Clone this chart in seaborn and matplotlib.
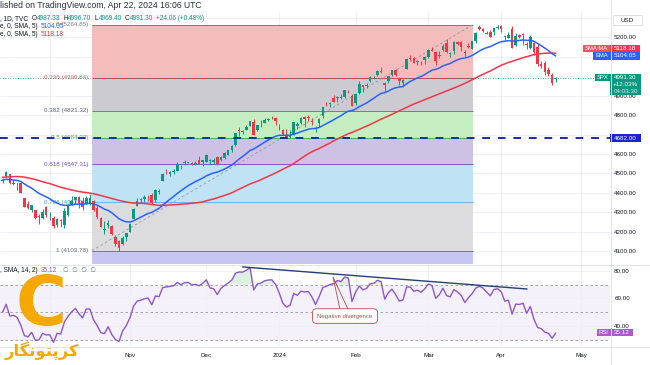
import numpy as np
import pandas as pd
import matplotlib
matplotlib.use("Agg")
import matplotlib.pyplot as plt
import seaborn as sns
from matplotlib.patches import Rectangle
from matplotlib.lines import Line2D

# ---------------- data (S&P 500 daily, 2023-09-13 .. 2024-04-22) ----------------
opens = [4462, 4487, 4497, 4445, 4446, 4453, 4375, 4342, 4311, 4312, 4282, 4269, 4328,
         4284, 4269, 4234, 4259, 4234, 4289, 4339, 4366, 4381, 4360, 4342, 4345, 4358, 4321, 4273, 4211, 4235, 4232, 4175, 4152, 4140, 4171,
         4201, 4268, 4335, 4365, 4367, 4384, 4391, 4364, 4407, 4459, 4505, 4497, 4510, 4511, 4538, 4553, 4556, 4555, 4546, 4571, 4559,
         4560, 4564, 4557, 4587, 4568, 4577, 4594, 4619, 4646, 4721, 4715, 4726, 4744, 4764, 4724, 4753, 4758, 4773, 4786, 4783,
         4745, 4726, 4698, 4690, 4703, 4742, 4760, 4792, 4791, 4772, 4739, 4760, 4796, 4853, 4856, 4888, 4886, 4888, 4892, 4926, 4900,
         4862, 4916, 4957, 4950, 4974, 4996, 5005, 5026, 4967, 4976, 5004, 5032, 4989, 4964, 5039, 5094, 5093, 5074, 5067, 5085,
         5098, 5131, 5123, 5109, 5133, 5173, 5112, 5131, 5174, 5176, 5123, 5154, 5140, 5182, 5254, 5242, 5220, 5228, 5226, 5248,
         5257, 5204, 5195, 5244, 5158, 5211, 5217, 5167, 5144, 5171, 5149, 5065, 5068, 5031, 5005, 4987.33]
highs = [4479, 4511, 4497, 4467, 4452, 4461, 4376, 4357, 4338, 4313, 4292, 4317, 4333,
         4300, 4281, 4269, 4268, 4324, 4341, 4385, 4378, 4385, 4377, 4383, 4393, 4365, 4339, 4276, 4255, 4259, 4233, 4184, 4157, 4178, 4195,
         4246, 4320, 4374, 4372, 4387, 4391, 4401, 4418, 4421, 4504, 4521, 4511, 4521, 4557, 4542, 4568, 4561, 4560, 4562, 4588, 4569,
         4599, 4575, 4579, 4590, 4590, 4610, 4623, 4644, 4709, 4739, 4725, 4749, 4769, 4779, 4749, 4773, 4785, 4785, 4794, 4789,
         4755, 4729, 4727, 4721, 4764, 4765, 4790, 4798, 4803, 4783, 4745, 4785, 4843, 4868, 4866, 4903, 4898, 4906, 4929, 4931, 4907,
         4906, 4975, 4957, 4964, 4999, 5000, 5030, 5048, 4971, 5003, 5032, 5039, 4993, 4984, 5094, 5111, 5097, 5082, 5077, 5104,
         5140, 5149, 5127, 5127, 5165, 5189, 5125, 5180, 5180, 5180, 5136, 5171, 5180, 5225, 5261, 5247, 5230, 5235, 5249, 5264.85,
         5264, 5208, 5229, 5256, 5222, 5219, 5224, 5178, 5211, 5175, 5168, 5079, 5077, 5046, 5019, 4996.70]
lows = [4453, 4478, 4447, 4443, 4416, 4401, 4329, 4316, 4302, 4265, 4238, 4265, 4274,
        4260, 4220, 4225, 4225, 4219, 4283, 4339, 4345, 4325, 4311, 4342, 4338, 4309, 4268, 4223, 4189, 4220, 4182, 4128, 4103.78, 4133, 4153,
        4197, 4268, 4335, 4348, 4355, 4360, 4344, 4353, 4394, 4459, 4496, 4487, 4499, 4511, 4525, 4546, 4554, 4546, 4541, 4547, 4537,
        4558, 4548, 4547, 4546, 4566, 4575, 4594, 4611, 4643, 4694, 4705, 4725, 4743, 4697, 4717, 4737, 4758, 4768, 4780, 4751,
        4723, 4700, 4687, 4682, 4700, 4731, 4756, 4740, 4769, 4748, 4715, 4740, 4785, 4845, 4844, 4865, 4869, 4881, 4887, 4916, 4845,
        4853, 4908, 4918, 4940, 4969, 4987, 5000, 5016, 4920, 4964, 5003, 4999, 4955, 4946, 5039, 5082, 5068, 5058, 5058, 5062,
        5094, 5127, 5056, 5092, 5131, 5117, 5100, 5114, 5160, 5131, 5104, 5147, 5138, 5171, 5240, 5229, 5215, 5203, 5214, 5245,
        5229, 5184, 5194, 5146, 5157, 5198, 5160, 5138, 5138, 5107, 5052, 5040, 5008, 5002, 4954, 4969.40]
closes = [4467.44, 4505.10, 4450.32, 4453.53, 4443.95, 4402.20, 4330.00, 4320.06, 4337.44, 4273.53, 4274.51, 4299.70, 4288.05,
          4288.39, 4229.45, 4263.75, 4258.19, 4308.50, 4335.66, 4358.24, 4376.95, 4349.61, 4327.78, 4373.63, 4373.20, 4314.60, 4278.00, 4224.16, 4217.04, 4247.68, 4186.77, 4137.23, 4117.37, 4166.82, 4193.80,
          4237.86, 4317.78, 4358.34, 4365.98, 4378.38, 4382.78, 4347.35, 4415.24, 4411.55, 4495.70, 4502.88, 4508.24, 4514.02, 4547.38, 4538.19, 4556.62, 4559.34, 4550.43, 4554.89, 4550.58, 4567.80,
          4594.63, 4569.78, 4567.18, 4549.34, 4585.59, 4604.37, 4622.44, 4643.70, 4707.09, 4719.55, 4719.19, 4740.56, 4768.37, 4698.35, 4746.75, 4754.63, 4774.75, 4781.58, 4783.35, 4769.83,
          4742.83, 4704.81, 4688.68, 4697.24, 4763.54, 4756.50, 4783.45, 4780.24, 4783.83, 4765.98, 4739.21, 4780.94, 4839.81, 4850.43, 4864.60, 4868.55, 4894.16, 4890.97, 4927.93, 4924.97, 4845.65,
          4906.19, 4958.61, 4942.81, 4954.23, 4995.06, 4997.91, 5026.61, 5021.84, 4953.17, 5000.62, 5029.73, 5005.57, 4975.51, 4981.80, 5087.03, 5088.80, 5069.53, 5078.18, 5069.76, 5096.27,
          5137.08, 5130.95, 5078.65, 5104.76, 5157.36, 5123.69, 5117.94, 5175.27, 5165.31, 5150.48, 5117.09, 5149.42, 5178.51, 5224.62, 5241.53, 5234.18, 5218.19, 5203.58, 5248.49, 5254.35,
          5243.77, 5205.81, 5211.49, 5147.21, 5204.34, 5202.39, 5209.91, 5160.64, 5199.06, 5123.41, 5061.82, 5051.41, 5022.21, 5011.12, 4967.23, 4991.30]
# closes before the visible window (2023-07-03 .. 2023-09-12), used to warm up the indicators
history_closes = [4455.59, 4446.82, 4411.59, 4398.95, 4409.53, 4439.26, 4472.16, 4510.04, 4505.42, 4522.79,
                  4554.98, 4565.72, 4534.87, 4536.34, 4554.64, 4567.46, 4566.75, 4537.41, 4582.23, 4588.96,
                  4576.73, 4513.39, 4501.89, 4478.03, 4518.44, 4499.38, 4467.71, 4468.83, 4464.05, 4489.72,
                  4437.86, 4404.33, 4370.36, 4369.71, 4399.77, 4387.55, 4436.01, 4376.31, 4405.71, 4433.31,
                  4497.63, 4514.87, 4507.66, 4515.77, 4496.83, 4465.48, 4451.14, 4457.49, 4487.46, 4461.90]

month_labels = ["Nov", "Dec", "2024", "Feb", "Mar", "Apr", "May"]
price_ticks = [4100, 4200, 4300, 4400, 4500, 4600, 4800, 4900, 5200]
rsi_ticks = [40, 60, 80]
fib_levels = [0, 0.236, 0.382, 0.5, 0.618, 0.786, 1]
fib_level_text = ["0", "0.236", "0.382", "0.5", "0.618", "0.786", "1"]
fib_low, fib_high = 4103.78, 5264.85
support_level = 4682.00
last_price = 4991.30
ohlc_text = ["4987.33", "4996.70", "4969.40", "4991.30"]
change_text = "+24.06 (+0.48%)"
ema_last, sma_last, rsi_last = 5104.05, 5118.18, 35.12

# ---------------- positions / styles ----------------
month_bar = [35, 56, 76, 97, 117, 137, 159]
grid_bar = [13] + month_bar
zone_x0, zone_x1 = 24.56, 129.2
div_x, div_y = [66.0, 144.1], [82.7, 66.8]

UP, DN = "#089981", "#f23645"
BLUE, RED, PURPLE = "#2962ff", "#f23645", "#8e57c7"
TXT = "#131722"

sns.set_theme(style="white")
plt.rcParams['font.family'] = ['Liberation Sans', 'DejaVu Sans']
plt.rcParams['axes.unicode_minus'] = False

W, H = 650, 365
fig = plt.figure(figsize=(W / 100, H / 100), dpi=100)
fig.patch.set_facecolor("white")


def fx(p):
    return p / W


def fy(p):
    return 1 - p / H


ax = fig.add_axes([0, fy(264), fx(610), (264 - 12) / H])
axr = fig.add_axes([0, fy(346), fx(610), (346 - 265) / H])

n = len(closes)
idx = np.arange(n)
o, h, l, c = map(np.asarray, (opens, highs, lows, closes))

# indicators
allc = pd.Series(history_closes + closes, dtype=float)
ema = allc.ewm(span=20, adjust=False).mean().to_numpy()[-n:]
sma = allc.rolling(50).mean().to_numpy()[-n:]
dlt = allc.diff().fillna(0)
ag = dlt.clip(lower=0).ewm(alpha=1 / 14, adjust=False).mean()
al = (-dlt).clip(lower=0).ewm(alpha=1 / 14, adjust=False).mean()
rsi = (100 - 100 / (1 + ag / al)).to_numpy()[-n:]

# ---------------- main panel ----------------
fib_prices = [fib_high - f * (fib_high - fib_low) for f in fib_levels]
zone_colors = ["#f4bcbd", "#cccbd1", "#c4eec1", "#cdc2e3", "#bfe2f4", "#dcdcde"]
level_colors = ["#787b86", "#f23645", "#787b86", "#4caf50", "#7e57c2", "#64b5f6", "#787b86"]
label_colors = ["#787b86", "#e06b6b", "#5d606b", "#4caf50", "#6a4fb0", "#3a9ad8", "#6b6e78"]
for i in range(6):
    ax.add_patch(Rectangle((zone_x0, fib_prices[i + 1]), zone_x1 - zone_x0,
                           fib_prices[i] - fib_prices[i + 1], fc=zone_colors[i], lw=0, zorder=1))
ext = fib_high - 1.618 * (fib_high - fib_low)
ax.add_patch(Rectangle((zone_x0, ext), zone_x1 - zone_x0, fib_low - ext, fc="#c7c6f2", lw=0, zorder=1))
for p, col, lab, lc in zip(fib_prices, level_colors, fib_level_text, label_colors):
    ax.hlines(p, zone_x0, zone_x1, colors=col, lw=0.7, zorder=2)
    ax.text(zone_x0 - 1.0, p, f"{lab} ({p:.2f})", ha="right", va="center", fontsize=4.5, color=lc, zorder=3)
ax.plot([zone_x0, zone_x1], [fib_low, fib_high], color="#9598a1", lw=0.6, ls=(0, (3, 3)), zorder=2)

ax.axhline(last_price, color=UP, lw=0.6, ls=(0, (1, 2)), zorder=3)

col = np.where(c >= o, UP, DN)
ax.vlines(idx, l, h, colors=col, lw=0.7, zorder=4)
ax.bar(idx, np.maximum(np.abs(c - o), 1.5), bottom=np.minimum(o, c), width=0.7,
       color=col, lw=0, zorder=5)

sns.lineplot(x=idx, y=sma, ax=ax, color=RED, lw=1.1, legend=False, zorder=6)
sns.lineplot(x=idx, y=ema, ax=ax, color=BLUE, lw=1.1, legend=False, zorder=6)

ax.axhline(support_level, color="#1b2aa8", lw=1.4, ls=(0, (4, 4)), zorder=7)

# ---------------- RSI panel ----------------
axr.axhspan(30, 70, color="#7e57c2", alpha=0.08, lw=0, zorder=0.5)
for v in (70, 50, 30):
    axr.axhline(v, color="#9598a1", lw=0.6, ls=(0, (3, 3)), zorder=1)
axr.fill_between(idx, rsi, 70, where=rsi > 70, interpolate=True, color="#4caf50", alpha=0.18, lw=0, zorder=1.5)
axr.fill_between(idx, rsi, 30, where=rsi < 30, interpolate=True, color="#f23645", alpha=0.15, lw=0, zorder=1.5)
sns.lineplot(x=idx, y=rsi, ax=axr, color=PURPLE, lw=1.0, legend=False, zorder=3)
axr.plot(div_x, div_y, color="#25406e", lw=1.0, zorder=4)
axr.plot([92.7, 90.8, 94.9], [52.3, 75.4, 52.3], color="#b5484a", lw=0.6, zorder=4)
axr.text(94.1, 47.3, "Negative divergence", ha="center", va="center", fontsize=4.3, color="#b5484a", zorder=5,
         bbox=dict(boxstyle="round,pad=0.8,rounding_size=0.6", fc="white", ec="#b5484a", lw=0.6))

# ---------------- axes cosmetics ----------------
for a in (ax, axr):
    a.set_xlim(-0.7, 166.9)
    a.set_facecolor("white")
    for s in a.spines.values():
        s.set_visible(False)
    a.set_axisbelow(True)
    a.set_xlabel("")
    a.set_ylabel("")
    a.yaxis.tick_right()
    a.set_xticks(grid_bar)
    a.grid(True, axis="x", color="#eef0f5", lw=0.7)
ax.set_ylim(4034.7, 5330)
axr.set_ylim(25.7, 84.1)
for v in range(4100, 5301, 100):
    ax.axhline(v, color="#eef0f5", lw=0.7, zorder=0)
ax.set_yticks(price_ticks)
ax.set_yticklabels([f"{v:.2f}" for v in price_ticks])
ax.tick_params(axis="y", length=0, pad=3, labelsize=4.5, labelcolor=TXT)
ax.tick_params(axis="x", length=0, labelbottom=False)
axr.set_yticks(rsi_ticks)
axr.set_yticklabels([f"{v:.2f}" for v in rsi_ticks])
axr.grid(True, axis="y", color="#eef0f5", lw=0.7)
axr.tick_params(axis="y", length=0, pad=3, labelsize=4.5, labelcolor=TXT)
axr.set_xticklabels([""] + month_labels)
axr.tick_params(axis="x", length=0, pad=5, labelsize=4.5, labelcolor=TXT)

# separators
for (x0, y0, x1, y1) in [(0, 264.5, 650, 264.5), (0, 346.5, 650, 346.5), (610.5, 0, 610.5, 365)]:
    fig.add_artist(Line2D([fx(x0), fx(x1)], [fy(y0), fy(y1)], color="#e0e3eb", lw=0.7))


def ypx(a, v):
    return H - a.transData.transform((0, v))[1]


def box(x0, y0, x1, y1, fc, ec="none", lw=0.0):
    fig.add_artist(Rectangle((fx(x0), fy(y1)), (x1 - x0) / W, (y1 - y0) / H,
                             transform=fig.transFigure, fc=fc, ec=ec, lw=lw))


def ftext(x, y, s, **kw):
    return fig.text(fx(x), fy(y), s, **kw)


# right-scale tags
box(613, 15, 642, 25, "white", ec="#d1d4dc", lw=0.5)
ftext(627.5, 20, "USD", ha="center", va="center", fontsize=4.5, color=TXT)

ye = ypx(ax, ema_last)
box(593, ye - 3.7, 610, ye + 3.7, BLUE)
ftext(601.5, ye, "EMA", ha="center", va="center", fontsize=4.2, color="white")
box(610, ye - 3.7, 640, ye + 3.7, BLUE)
ftext(625, ye, f"{ema_last:.2f}", ha="center", va="center", fontsize=4.5, color="white")
ys = ye - 7.4
box(583, ys - 3.7, 610, ys + 3.7, "#f0525f")
ftext(596.5, ys, "SMA:MA", ha="center", va="center", fontsize=4.2, color="white")
box(610, ys - 3.7, 640, ys + 3.7, RED)
ftext(625, ys, f"{sma_last:.2f}", ha="center", va="center", fontsize=4.5, color="white")

yp = ypx(ax, last_price)
box(595, yp - 3.6, 610, yp + 3.6, UP)
ftext(602.5, yp, "SPX", ha="center", va="center", fontsize=4.2, color="white")
box(610, yp - 3.6, 641, yp + 17.6, UP)
ftext(625.5, yp, f"{last_price:.2f}", ha="center", va="center", fontsize=4.5, color="white")
ftext(625.5, yp + 6.9, "+12.03%", ha="center", va="center", fontsize=4.5, color="white")
ftext(625.5, yp + 13.6, "04:03:30", ha="center", va="center", fontsize=4.5, color="#d8f0ea")

ysu = ypx(ax, support_level)
box(610, ysu - 3.7, 641, ysu + 3.7, "#1a23d6")
ftext(625.5, ysu, f"{support_level:.2f}", ha="center", va="center", fontsize=4.5, color="white")

yr = ypx(axr, rsi_last)
box(597, yr - 3.5, 610, yr + 3.5, "#a65ccb")
ftext(603.5, yr, "RSI", ha="center", va="center", fontsize=4.2, color="white")
box(610, yr - 3.5, 633, yr + 3.5, "#a65ccb")
ftext(621.5, yr, f"{rsi_last:.2f}", ha="center", va="center", fontsize=4.5, color="white")

# ---------------- legend / header lines (left part is cropped in the reference) ----------------
renderer = fig.canvas.get_renderer()


def rich(x0, y, segs, fs):
    cur = x0
    for s, colr, gap in segs:
        t = ftext(cur, y, s, color=colr, fontsize=fs, ha="left", va="center")
        cur = t.get_window_extent(renderer).x1 + gap


rich(0.5, 6, [("lished on TradingView.com, Apr 22, 2024 16:06 UTC", "#2a2e39", 0)], 6.2)
rich(0.5, 18.5, [(", 1D, TVC", TXT, 3), ("O", TXT, 0.3), (ohlc_text[0], UP, 3), ("H", TXT, 0.3),
                 (ohlc_text[1], UP, 3), ("L", TXT, 0.3), (ohlc_text[2], UP, 3), ("C", TXT, 0.3),
                 (ohlc_text[3], UP, 3), (change_text, UP, 0)], 4.7)
rich(0.5, 26.5, [("e, 0, SMA, 5)", TXT, 3), (f"{ema_last:.2f}", BLUE, 0)], 4.7)
rich(0.5, 34.5, [("e, 0, SMA, 5)", TXT, 3), (f"{sma_last:.2f}", RED, 0)], 4.7)
rich(0.5, 270.5, [(", SMA, 14, 2)", TXT, 3), (f"{rsi_last:.2f}", PURPLE, 6),
                  ("\u2205  \u2205  \u2205  \u2205", "#787b86", 0)], 4.7)

# ---------------- watermark logo ----------------
GOLD = "#f5a800"
ftext(41, 306, "C", ha="center", va="center", fontsize=50, fontweight="bold", color=GOLD, family=["DejaVu Sans"])
persian = "\uFEAD\uFE8E\uFB95\uFEE7\uFEEE\uFE98\uFB58\uFEAE\uFB90"  # کرپتونگار (shaped, visual order)
ftext(42, 351, persian, ha="center", va="center", fontsize=11.8, fontweight="bold", color=GOLD, family=["DejaVu Sans"])

fig.savefig("out.png", dpi=100, facecolor="white")
